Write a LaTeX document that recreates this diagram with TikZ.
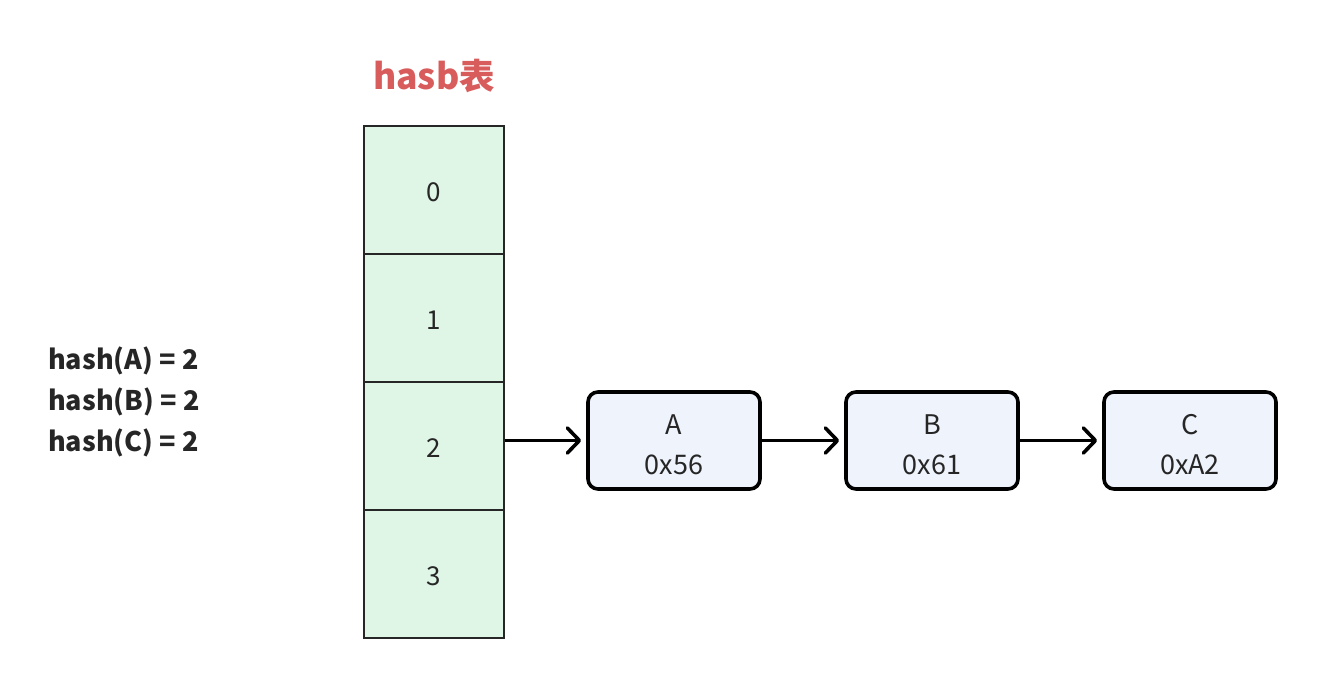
\documentclass[tikz,border=0pt]{standalone}
\usepackage{fontspec}
\setmainfont{Noto Sans CJK SC}
\usetikzlibrary{arrows.meta}
\definecolor{cellgreen}{HTML}{DFF5E6}
\definecolor{boxblue}{HTML}{EEF3FC}
\definecolor{titlered}{HTML}{D95C5C}
\definecolor{txt}{HTML}{262626}
\begin{document}
\begin{tikzpicture}[x=1pt,y=-1pt,
  cell/.style={draw=black!85,line width=1.6pt,fill=cellgreen,minimum width=140pt,minimum height=128pt,inner sep=0pt},
  celltext/.style={font=\fontsize{26}{28}\selectfont,text=txt,inner sep=0pt,yshift=-2pt},
  nodebox/.style={draw=black,line width=3.6pt,fill=boxblue,rounded corners=10pt,minimum width=172pt,minimum height=97pt,inner sep=0pt},
  boxtext/.style={align=center,font=\fontsize{27}{40}\selectfont,text=txt,inner sep=0pt,yshift=-4pt},
  link/.style={line width=3.6pt,-{Straight Barb[length=12pt,width=25pt,line width=3.6pt,line cap=round,line join=round]}}]
\useasboundingbox (0,0) rectangle (1326,688);
\node[font=\fontsize{35.5}{40}\selectfont\bfseries,text=titlered] (title) at (434,76) {hasb表};
\node[cell,label={[celltext,name=t0]center:0}] (c0) at (434,190) {};
\node[cell,label={[celltext,name=t1]center:1}] (c1) at (434,318) {};
\node[cell,label={[celltext,name=t2]center:2}] (c2) at (434,446) {};
\node[cell,label={[celltext,name=t3]center:3}] (c3) at (434,574) {};
\node[anchor=west,align=left,font=\fontsize{27}{41}\selectfont\bfseries,text=txt,inner sep=0pt] (hash) at (48,402) {hash(A) = 2\\hash(B) = 2\\hash(C) = 2};
\node[nodebox,label={[boxtext,name=ta]center:{A\\0x56}}] (a) at (674,440.5) {};
\node[nodebox,label={[boxtext,name=tb]center:{B\\0x61}}] (b) at (932,440.5) {};
\node[nodebox,label={[boxtext,name=tc]center:{C\\0xA2}}] (c) at (1190,440.5) {};
\draw[link] (c2.east |- a.west) -- ([xshift=-5pt]a.west);
\draw[link] (a) -- ([xshift=-5pt]b.west);
\draw[link] (b) -- ([xshift=-5pt]c.west);
\end{tikzpicture}
\end{document}
